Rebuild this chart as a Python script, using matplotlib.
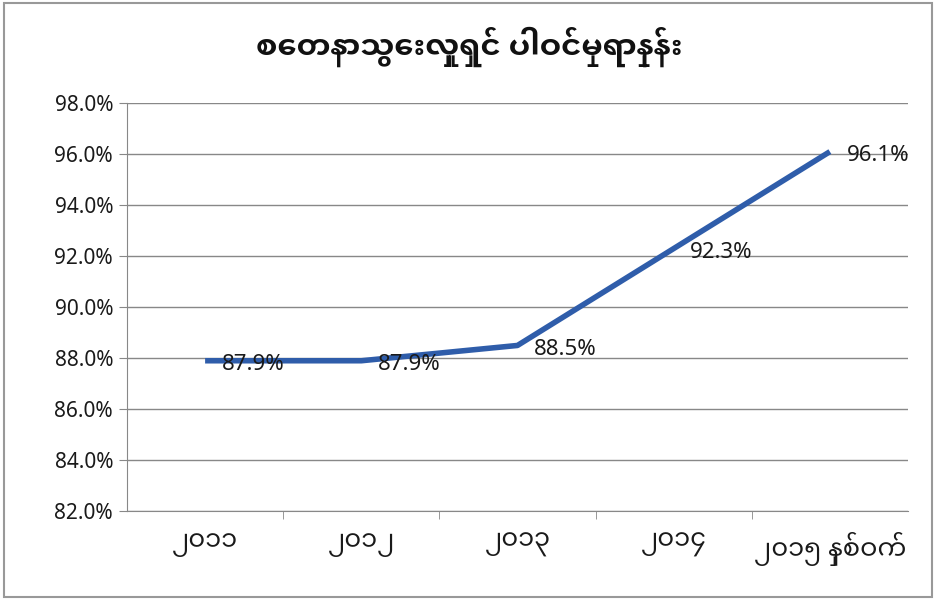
import matplotlib
matplotlib.use("Agg")
import matplotlib.pyplot as plt
from matplotlib.patches import Rectangle

title = "စေတနာသွေးလှူရှင် ပါဝင်မှုရာနှုန်း"
categories = ["၂၀၁၁", "၂၀၁၂", "၂၀၁၃", "၂၀၁၄", "၂၀၁၅ နှစ်ဝက်"]
values = [87.9, 87.9, 88.5, 92.3, 96.1]
value_labels = ["87.9%", "87.9%", "88.5%", "92.3%", "96.1%"]
yticks = [82, 84, 86, 88, 90, 92, 94, 96, 98]

plt.rcParams['font.family'] = ['Noto Sans', 'Noto Sans Myanmar UI', 'DejaVu Sans']
MY = ['Noto Sans Myanmar UI', 'Noto Sans', 'DejaVu Sans']

fig = plt.figure(figsize=(9.38, 6.0), dpi=100)
fig.patch.set_facecolor("white")
ax = fig.add_axes([0.1354, 0.148, 0.8326, 0.680])

x = list(range(len(categories)))
ax.plot(x, values, color="#2F5DAA", linewidth=4, solid_capstyle="butt", zorder=3)
for xi, v, lab in zip(x, values, value_labels):
    ax.annotate(lab, (xi, v), xytext=(12, -3), textcoords="offset points",
                ha="left", va="center", fontsize=16, color="#1a1a1a", zorder=4)

ax.set_xlim(-0.5, len(categories) - 0.5)
ax.set_ylim(82, 98)
ax.set_yticks(yticks)
ax.set_yticklabels([f"{t:.1f}%" for t in yticks], fontsize=15, color="#1a1a1a")
ax.set_xticks(x)
ax.set_xticklabels(categories, fontsize=18.5, color="#1a1a1a", family=MY)
ax.set_xticks([i + 0.5 for i in x[:-1]], minor=True)
ax.tick_params(axis="x", which="major", length=0, pad=15)
ax.tick_params(axis="x", which="minor", length=6, color="#888888")
ax.tick_params(axis="y", length=6, color="#888888", pad=4)
ax.grid(axis="y", color="#888888", linewidth=1)
ax.set_axisbelow(True)
for s in ["top", "right"]:
    ax.spines[s].set_visible(False)
for s in ["left", "bottom"]:
    ax.spines[s].set_color("#888888")

fig.text(0.5, 0.922, title, ha="center", va="center", fontsize=22,
         fontweight="bold", color="#111111", family=MY)

fig.patches.append(Rectangle((0.004, 0.005), 0.99, 0.99, transform=fig.transFigure,
                             fill=False, edgecolor="#999999", linewidth=1.5))

fig.savefig("out.png", dpi=100)
